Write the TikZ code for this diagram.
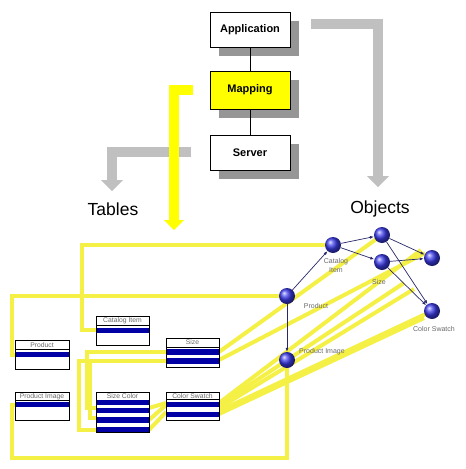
\documentclass[tikz,border=0pt]{standalone}
\usepackage{fontspec}
\setmainfont{Liberation Sans}
\usetikzlibrary{arrows.meta,shadows}
\definecolor{ylw}{RGB}{245,240,70}
\definecolor{ylwbig}{RGB}{255,255,0}
\definecolor{gryarrow}{RGB}{192,192,192}
\definecolor{shadowgray}{RGB}{150,150,150}
\definecolor{rowblue}{RGB}{0,0,165}
\definecolor{navy}{RGB}{40,40,105}
\definecolor{ballblue}{RGB}{60,60,235}
\definecolor{labgray}{RGB}{105,105,105}
\tikzset{
  layerbox/.style={draw, line width=0.8pt, fill=white, minimum width=80pt, minimum height=35pt,
    inner sep=0pt, font=\bfseries\fontsize{11}{12}\selectfont,
    drop shadow={shadow xshift=9pt, shadow yshift=-9pt, opacity=1, fill=shadowgray}},
  map/.style={draw=ylw, line width=4pt, line join=miter},
  bigarrow/.style={line width=10pt, line join=miter},
  obj/.style={circle, minimum size=16pt, inner sep=0pt, shading=ball, ball color=ballblue},
  rel/.style={draw=navy, line width=0.7pt, -{Latex[length=4pt,width=3pt]}},
  tabframe/.style={draw=black, line width=0.7pt},
  tabtitle/.style={font=\fontsize{6.8}{8}\selectfont, text=labgray, inner sep=0pt},
  objlabel/.style={font=\fontsize{7}{8.5}\selectfont, text=labgray, inner sep=0pt, align=center},
  biglabel/.style={font=\fontsize{17.5}{20}\selectfont, inner sep=0pt}
}
\begin{document}
\begin{tikzpicture}[x=1pt,y=-1pt]
\useasboundingbox (0,0) rectangle (466,469);

% ---- layer boxes ----
\node[layerbox] (app) at (250,29.5) {Application};
\node[layerbox, fill=ylwbig, minimum height=38pt] (mapb) at (250,90) {Mapping};
\node[layerbox] (srv) at (250,152.5) {Server};
\draw[line width=0.7pt] (app) -- (mapb);
\draw[line width=0.7pt] (mapb) -- (srv);

% ---- grey arrows ----
\coordinate (gr1) at (311,24);
\coordinate (gr2) at (378,24);
\coordinate (gr3) at (378,177);
\draw[gryarrow, bigarrow] (gr1) -- (gr2) -- (gr3);
\fill[gryarrow] (367,176) -- (389,176) -- (378,187) -- cycle;
\coordinate (gl1) at (191,152);
\coordinate (gl2) at (112,152);
\coordinate (gl3) at (112,181);
\draw[gryarrow, bigarrow] (gl1) -- (gl2) -- (gl3);
\fill[gryarrow] (101,180) -- (123,180) -- (112,191) -- cycle;

% ---- yellow arrow ----
\coordinate (y1) at (193,90);
\coordinate (y2) at (174,90);
\coordinate (y3) at (174,221);
\draw[ylwbig, bigarrow] (y1) -- (y2) -- (y3);
\fill[ylwbig] (164,220) -- (184,220) -- (174,230) -- cycle;

\node[biglabel] (tables) at (113,209) {Tables};
\node[biglabel] (objects) at (380,209) {Objects};

% ---- object nodes (positions) ----
\coordinate (pCat) at (333,245);
\coordinate (pA) at (382,235);
\coordinate (pSize) at (382,262);
\coordinate (pRight) at (432,258);
\coordinate (pCS) at (432,311);
\coordinate (pProd) at (287,296);
\coordinate (pPimg) at (287,360);

% ---- table row anchors ----
\coordinate (rProd) at (15,355);
\coordinate (rPimg) at (15,405);
\coordinate (rCat) at (96,330);
\coordinate (rSize1) at (166,352);
\coordinate (rSize2) at (166,361);
\coordinate (rSC1) at (96,408);
\coordinate (rSC2) at (96,418);
\coordinate (rSC3) at (96,430);

% ---- yellow mapping lines ----
\draw[map] (rCat) -- (82,330) |- (pCat);
\draw[map] (rProd) -- (12,355) |- (pProd);
\draw[map] (rPimg) -- (12,405) -- (12,458) -| (pPimg);
\draw[map] (rSize1) -- (87,352) |- (rSC1);
\draw[map] (rSize2) -- (79,361) |- (rSC3);
\draw[map] (90,361) |- (rSC2);
\draw[map] (149,408) -- (166,403);
\draw[map] (149,420) -- (166,405);
\draw[map] (149,430) -- (166,412);
\draw[map] (219,352) -- (pA);
\draw[map] (219,360) -- (425,253);
\draw[map] (219,403) -- (421,250);
\draw[map] (219,405) -- (404,283);
\draw[map] (219,408) -- (414,289);
\draw[map] (219,411) -- (pCS);
\draw[map] (219,414) -- (424,318);

% ---- tables ----
% Product
\fill[white] (15,340) rectangle (69,369);
\fill[rowblue] (15,352) rectangle (69,357);
\draw[tabframe] (15,349) -- (69,349);
\draw[tabframe] (15,340) rectangle (69,369);
\node[tabtitle] (tProd) at (42,344.8) {Product};
% Product Image
\fill[white] (15,392) rectangle (69,420);
\fill[rowblue] (15,402) rectangle (69,407);
\draw[tabframe] (15,400) -- (69,400);
\draw[tabframe] (15,392) rectangle (69,420);
\node[tabtitle] (tPimg) at (42,396.3) {Product Image};
% Catalog Item
\fill[white] (96,316) rectangle (149,345);
\fill[rowblue] (96,328) rectangle (149,333);
\draw[tabframe] (96,325) -- (149,325);
\draw[tabframe] (96,316) rectangle (149,345);
\node[tabtitle] (tCat) at (122.5,320.5) {Catalog Item};
% Size
\fill[white] (166,338) rectangle (219,367);
\fill[rowblue] (166,349) rectangle (219,355);
\fill[rowblue] (166,358) rectangle (219,364);
\draw[tabframe] (166,347) -- (219,347);
\draw[tabframe] (166,338) rectangle (219,367);
\node[tabtitle] (tSize) at (192.5,342.5) {Size};
% Size Color
\fill[white] (96,392) rectangle (149,432);
\fill[rowblue] (96,400) rectangle (149,405);
\fill[rowblue] (96,408) rectangle (149,413);
\fill[rowblue] (96,417) rectangle (149,423);
\fill[rowblue] (96,427) rectangle (149,432);
\draw[tabframe] (96,392) rectangle (149,432);
\node[tabtitle] (tSC) at (122.5,396.2) {Size Color};
% Color Swatch
\fill[white] (166,392) rectangle (219,420);
\fill[rowblue] (166,402) rectangle (219,407);
\fill[rowblue] (166,412) rectangle (219,417);
\draw[tabframe] (166,399.5) -- (219,399.5);
\draw[tabframe] (166,392) rectangle (219,420);
\node[tabtitle] (tCS) at (192.5,395.8) {Color Swatch};

% ---- object graph ----
\node[obj] (oCat) at (pCat) {};
\node[obj] (oA) at (pA) {};
\node[obj] (oSize) at (pSize) {};
\node[obj] (oRight) at (pRight) {};
\node[obj] (oCS) at (pCS) {};
\node[obj] (oProd) at (pProd) {};
\node[obj] (oPimg) at (pPimg) {};

\draw[rel] (oProd) -- (oCat);
\draw[rel] (oProd) -- (oPimg);
\draw[rel] (oCat) -- (oA);
\draw[rel] (oCat) -- (oSize);
\draw[rel] (oA) -- (oRight);
\draw[rel] (oA) -- (oCS);
\draw[rel] (oSize) -- (oRight);
\draw[rel] (oSize) -- (oCS);

\node[objlabel] (lCat) at (336,265.5) {Catalog\\Item};
\node[objlabel] (lSize) at (379,282) {Size};
\node[objlabel] (lProd) at (316,306) {Product};
\node[objlabel] (lPimg) at (322,352) {Product Image};
\node[objlabel] (lCS) at (434,329) {Color Swatch};
\end{tikzpicture}
\end{document}
